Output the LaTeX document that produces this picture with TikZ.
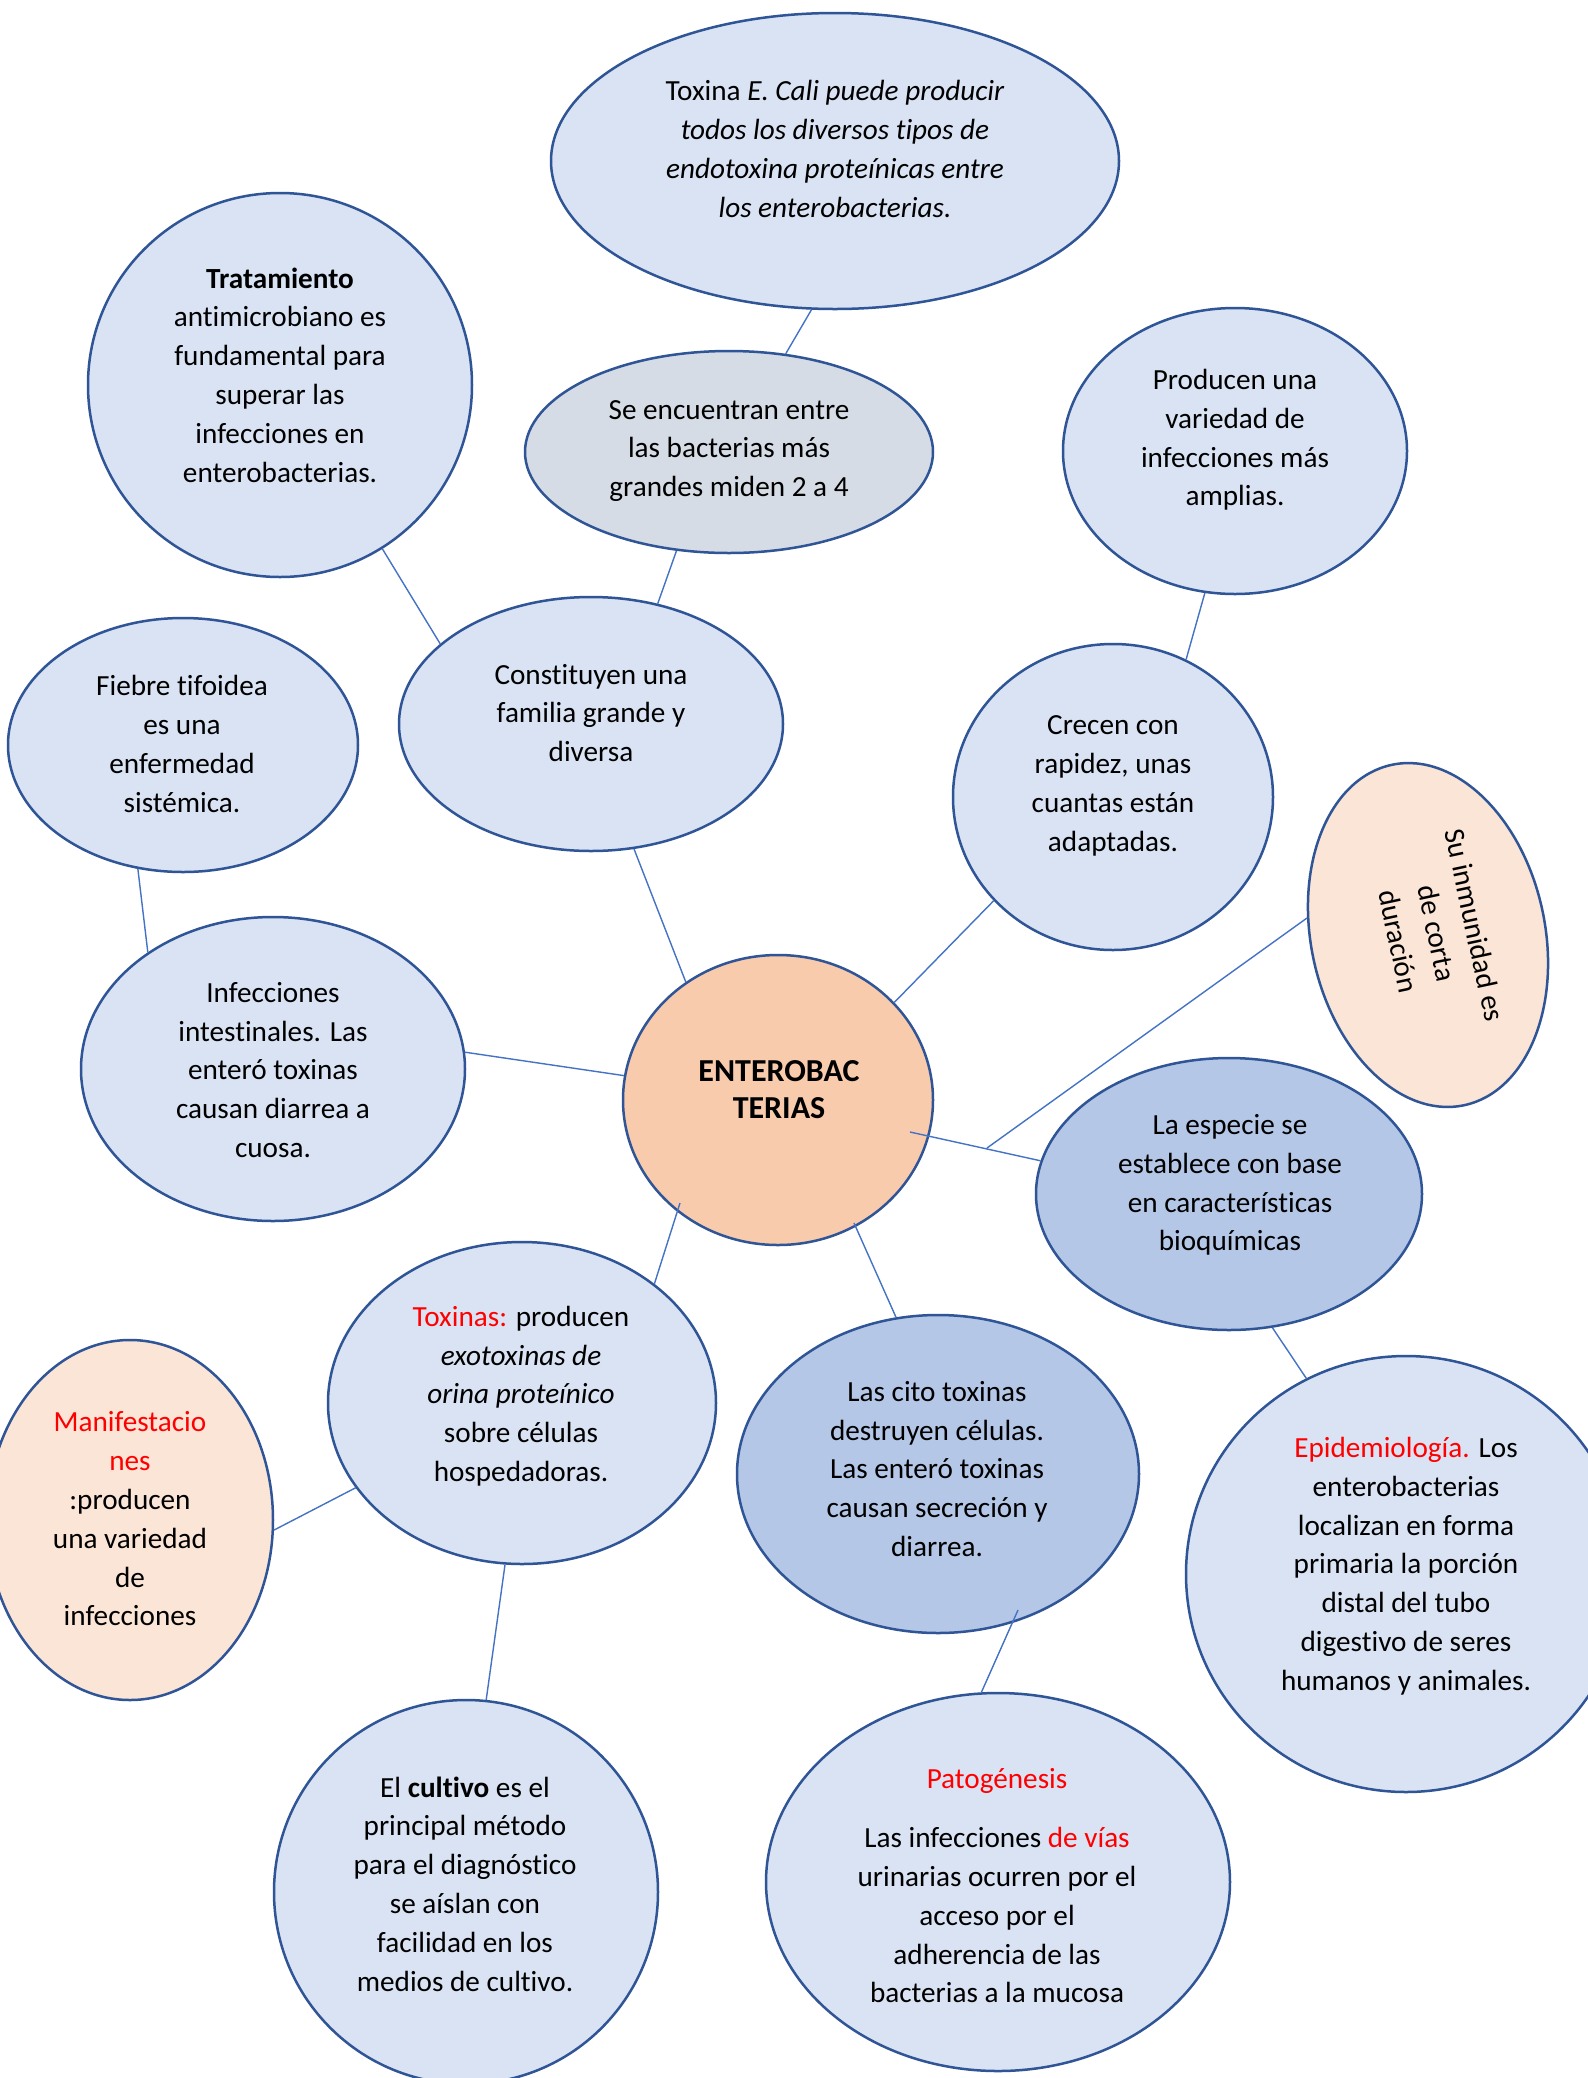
\documentclass[tikz,border=0pt]{standalone}
\usepackage{fontspec}
\setmainfont[Ligatures={NoCommon}]{Carlito}
\usetikzlibrary{shapes.geometric}
\definecolor{bubA}{HTML}{DAE3F3}
\definecolor{bubG}{HTML}{D6DCE5}
\definecolor{bubB}{HTML}{B4C7E7}
\definecolor{peachC}{HTML}{F8CBAD}
\definecolor{peachL}{HTML}{FBE5D6}
\definecolor{edgeC}{HTML}{2F5597}
\definecolor{lineC}{HTML}{4472C4}
\definecolor{redC}{HTML}{FF0000}
\begin{document}
\begin{tikzpicture}[x=0.5pt,y=-0.5pt,
  bub/.style={ellipse, draw=edgeC, line width=1.25pt, inner sep=0pt},
  txt/.style={align=center, inner sep=0pt, font=\fontsize{14.6}{19.4}\selectfont},
  conn/.style={draw=lineC, line width=0.7pt}]
\useasboundingbox (0,0) rectangle (1588,2078);
\clip (0,0) rectangle (1588,2078);
\fill[white] (0,0) rectangle (1588,2078);

% bubbles
\node[bub, fill=bubA, minimum width=284pt, minimum height=148pt] (top) at (835,161) {};
\node[bub, fill=bubA, minimum width=192pt, minimum height=192pt] (tra) at (280,385) {};
\node[bub, fill=bubG, minimum width=204pt, minimum height=101pt] (sen) at (729,452) {};
\node[bub, fill=bubA, minimum width=172pt, minimum height=143pt] (pro) at (1235,451) {};
\node[bub, fill=bubA, minimum width=175pt, minimum height=127pt] (fie) at (183,745) {};
\node[bub, fill=bubA, minimum width=192pt, minimum height=127pt] (con) at (591,724) {};
\node[bub, fill=bubA, minimum width=160pt, minimum height=153pt] (cre) at (1113,797) {};
\node[bub, fill=peachL, minimum width=174pt, minimum height=117pt, rotate=-78] (inm) at (1428,935) {};
\node[bub, fill=peachC, minimum width=155pt, minimum height=145pt] (ent) at (778,1100) {};
\node[bub, fill=bubA, minimum width=192pt, minimum height=152pt] (inf) at (273,1069) {};
\node[bub, fill=bubB, minimum width=193pt, minimum height=136pt] (esp) at (1229,1194) {};
\node[bub, fill=bubA, minimum width=194pt, minimum height=161pt] (tox) at (522,1403) {};
\node[bub, fill=peachL, minimum width=143pt, minimum height=180pt] (man) at (130,1520) {};
\node[bub, fill=bubB, minimum width=201pt, minimum height=159pt] (cit) at (938,1474) {};
\node[bub, fill=bubA, minimum width=220pt, minimum height=218pt] (epi) at (1406,1574) {};
\node[bub, fill=bubA, minimum width=192pt, minimum height=192pt] (cul) at (466,1892) {};
\node[bub, fill=bubA, minimum width=232pt, minimum height=189pt] (pat) at (998,1882) {};

% texts
\node[txt] (top-t) at (835,149) {Toxina \textit{E. Cali puede producir}\\\textit{todos los diversos tipos de}\\\textit{endotoxina proteínicas entre}\\\textit{los enterobacterias.}};
\node[txt] (tra-t) at (280,375) {\textbf{Tratamiento}\\antimicrobiano es\\fundamental para\\superar las\\infecciones en\\enterobacterias.};
\node[txt] (sen-t) at (729,451) {Se encuentran entre\\las bacterias más\\grandes miden 2 a 4};
\node[txt] (pro-t) at (1235,440) {Producen una\\variedad de\\infecciones más\\amplias.};
\node[txt] (fie-t) at (182,744) {Fiebre tifoidea\\es una\\enfermedad\\sistémica.};
\node[txt] (con-t) at (591,713) {Constituyen una\\familia grande y\\diversa};
\node[txt] (cre-t) at (1113,786) {Crecen con\\rapidez, unas\\cuantas están\\adaptadas.};
\node[txt, rotate=-78] (inm-t) at (1437,933) {Su inmunidad es\\de corta\\duración};
\node[txt, font=\fontsize{16}{18.6}\selectfont\bfseries] (ent-t) at (779,1090) {ENTEROBAC\\TERIAS};
\node[txt] (inf-t) at (273,1070) {Infecciones\\intestinales. Las\\enteró toxinas\\causan diarrea a\\cuosa.};
\node[txt] (esp-t) at (1230,1185) {La especie se\\establece con base\\en características\\bioquímicas};
\node[txt] (tox-t) at (521,1396) {\textcolor{redC}{Toxinas:} producen\\\textit{exotoxinas de}\\\textit{orina proteínico}\\sobre células\\hospedadoras.};
\node[txt] (man-t) at (130,1519) {\textcolor{redC}{Manifestacio}\\\textcolor{redC}{nes}\\:producen\\una variedad\\de\\infecciones};
\node[txt] (cit-t) at (937,1469) {Las cito toxinas\\destruyen células.\\Las enteró toxinas\\causan secreción y\\diarrea.};
\node[txt] (epi-t) at (1406,1566) {\textcolor{redC}{Epidemiología.} Los\\enterobacterias\\localizan en forma\\primaria la porción\\distal del tubo\\digestivo de seres\\humanos y animales.};
\node[txt] (cul-t) at (465,1884) {El \textbf{cultivo} es el\\principal método\\para el diagnóstico\\se aíslan con\\facilidad en los\\medios de cultivo.};
\node[txt] (pat-t) at (997,1886) {\textcolor{redC}{Patogénesis}\\[10pt]Las infecciones \textcolor{redC}{de vías}\\urinarias ocurren por el\\acceso por el\\adherencia de las\\bacterias a la mucosa};

% inner ends of connectors
\coordinate (ent-in1) at (910,1132);
\coordinate (fork) at (987,1148);
\coordinate (ent-in2) at (680,1203);
\coordinate (ent-in3) at (854,1223);
\coordinate (cit-in) at (1018,1610);

% connectors
\draw[conn] (top.-99) -- (sen.60);
\draw[conn] (sen.-118) -- (con.61);
\draw[conn] (tra.-58) -- (con.152);
\draw[conn] (pro.-102) -- (cre.62);
\draw[conn] (fie.-110) -- (inf.137);
\draw[conn] (con.-71) -- (ent.128);
\draw[conn] (cre.-139) -- (ent.40);
\draw[conn] (inf.5) -- (ent.171);
\draw[conn] (ent-in1) -- (esp.170);
\draw[conn] (fork) -- (inm.250);
\draw[conn] (ent-in2) -- (tox.42);
\draw[conn] (ent-in3) -- (cit.105);
\draw[conn] (tox.-153) -- (man.-4);
\draw[conn] (tox.-96) -- (cul.84);
\draw[conn] (cit-in) -- (pat.95);
\draw[conn] (esp.-72) -- (epi.117);
\end{tikzpicture}
\end{document}
